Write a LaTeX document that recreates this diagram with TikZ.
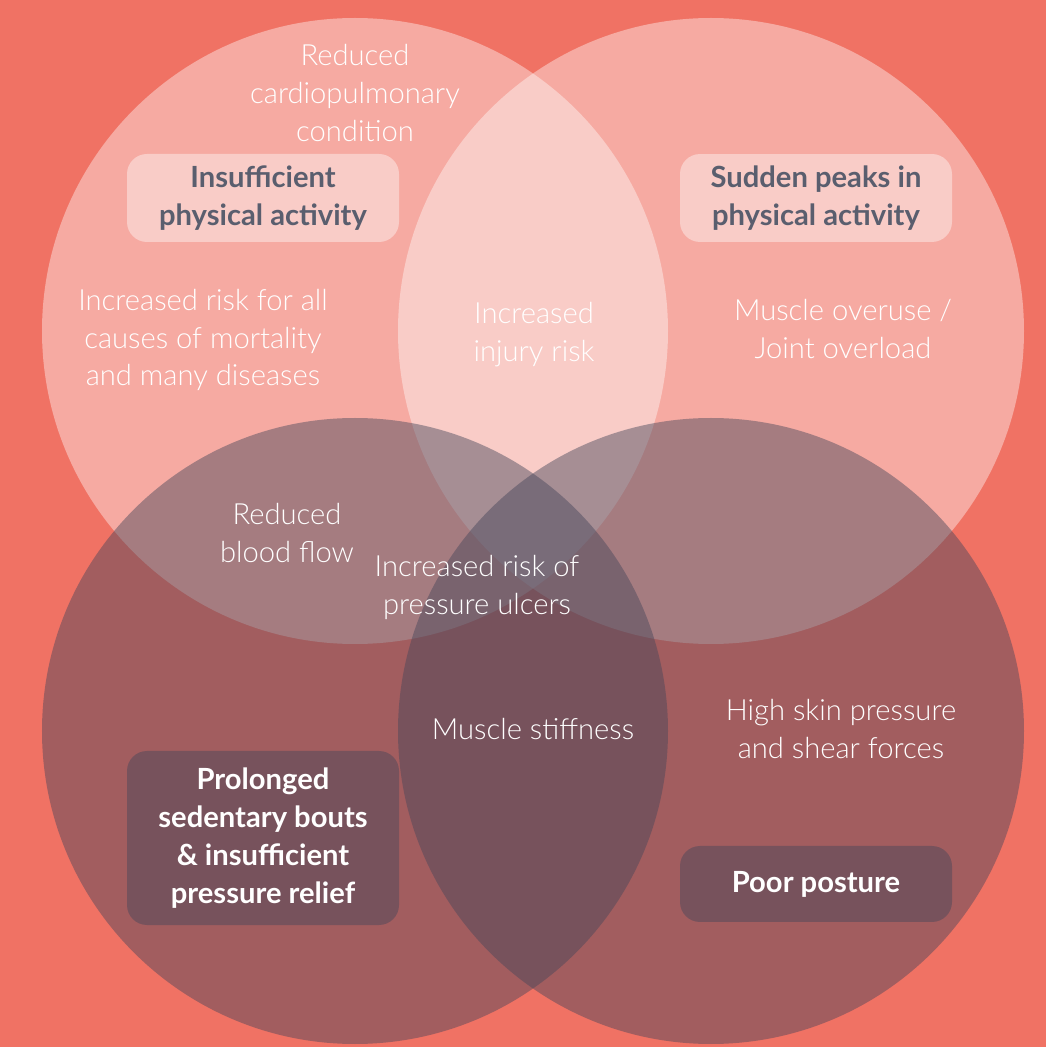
\documentclass[tikz,border=0pt]{standalone}
\usepackage{fontspec}
\setmainfont{Lato}[UprightFont=* Light,BoldFont=* Bold]
\definecolor{bg}{HTML}{F07264}
\definecolor{dk}{RGB}{70,70,90}
\definecolor{ink}{HTML}{5A5E6E}
\def\rad{3.13}
\def\boxw{2.72cm}
\def\fs{\fontsize{8.3}{10.8}\selectfont}
\tikzstyle{top}=[fill=white,fill opacity=.4]
\tikzstyle{bot}=[fill=dk,fill opacity=.46]
\tikzstyle{t}=[text=white,align=center,inner sep=0pt,font=\fs]
\tikzstyle{tbox}=[top,text opacity=1,rounded corners=.2cm,minimum width=\boxw,minimum height=.78cm,text=ink,align=center,font=\bfseries\fs]
\tikzstyle{bbox}=[bot,text opacity=1,rounded corners=.2cm,minimum width=\boxw,text=white,align=center,font=\bfseries\fs]

\begin{document}
\begin{tikzpicture}
	\fill[bg] (0,0) rectangle (10.46,10.47);
	% the four sets
	\fill[top] (3.55,7.16) circle (\rad);
	\fill[top] (7.11,7.16) circle (\rad);
	\fill[bot] (3.55,3.16) circle (\rad);
	\fill[bot] (7.11,3.16) circle (\rad);
	% titles
	\node[tbox](insuf) at (2.63,8.49){Insufficient\\physical activity};
	\node[tbox](peaks) at (8.16,8.49){Sudden peaks in\\physical activity};
	\node[bbox,minimum height=1.74cm](sed) at (2.63,2.09){Prolonged\\sedentary bouts\\\& insufficient\\pressure relief};
	\node[bbox,minimum height=.76cm](post) at (8.16,1.63){Poor posture};
	% effects
	\node[t](cardio) at (3.55,9.54){Reduced\\cardiopulmonary\\condition};
	\node[t](mort) at (2.03,7.07){Increased risk for all\\causes of mortality\\and many diseases};
	\node[t](injury) at (5.34,7.12){Increased\\injury risk};
	\node[t](overuse) at (8.43,7.18){Muscle overuse /\\Joint overload};
	\node[t](blood) at (2.87,5.14){Reduced\\blood flow};
	\node[t](ulcer) at (4.77,4.60){Increased risk of\\pressure ulcers};
	\node[t](stiff) at (5.33,3.18){Muscle stiffness};
	\node[t](shear) at (8.41,3.18){High skin pressure\\and shear forces};
\end{tikzpicture}
\end{document}
